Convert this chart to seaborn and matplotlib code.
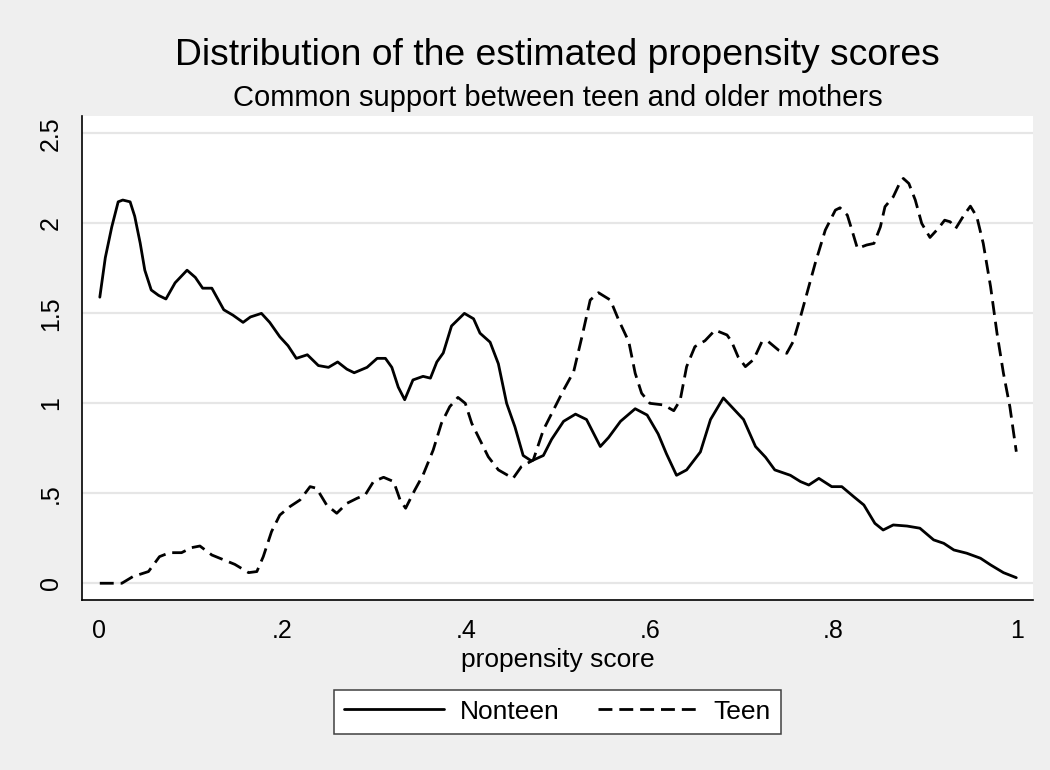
import numpy as np
import pandas as pd
import matplotlib
matplotlib.use("Agg")
import matplotlib.pyplot as plt
from matplotlib.lines import Line2D
import seaborn as sns

# density estimates
nonteen_x = [0.001, 0.007, 0.014, 0.021, 0.026, 0.034, 0.039, 0.045, 0.050, 0.057,
             0.065, 0.073, 0.083, 0.096, 0.105, 0.113, 0.123, 0.136, 0.146, 0.157,
             0.165, 0.177, 0.186, 0.197, 0.206, 0.215, 0.227, 0.239, 0.250, 0.260,
             0.270, 0.278, 0.292, 0.303, 0.312, 0.319, 0.326, 0.333, 0.342, 0.353,
             0.361, 0.368, 0.375, 0.384, 0.398, 0.408, 0.415, 0.426, 0.435, 0.444,
             0.453, 0.462, 0.471, 0.484, 0.493, 0.506, 0.519, 0.531, 0.539, 0.546,
             0.555, 0.568, 0.584, 0.597, 0.609, 0.618, 0.629, 0.640, 0.655, 0.666,
             0.680, 0.691, 0.702, 0.715, 0.726, 0.736, 0.753, 0.764, 0.773, 0.784,
             0.798, 0.809, 0.822, 0.833, 0.845, 0.854, 0.865, 0.880, 0.894, 0.909,
             0.920, 0.931, 0.945, 0.960, 0.971, 0.985, 0.999]
nonteen_y = [1.59, 1.81, 1.98, 2.12, 2.13, 2.12, 2.04, 1.89, 1.74, 1.63,
             1.60, 1.58, 1.67, 1.74, 1.70, 1.64, 1.64, 1.52, 1.49, 1.45,
             1.48, 1.50, 1.45, 1.37, 1.32, 1.25, 1.27, 1.21, 1.20, 1.23,
             1.19, 1.17, 1.20, 1.25, 1.25, 1.20, 1.09, 1.02, 1.13, 1.15,
             1.14, 1.23, 1.28, 1.43, 1.50, 1.47, 1.39, 1.34, 1.22, 1.00,
             0.87, 0.71, 0.68, 0.71, 0.80, 0.90, 0.94, 0.91, 0.83, 0.76,
             0.81, 0.90, 0.97, 0.935, 0.83, 0.72, 0.60, 0.63, 0.73, 0.91,
             1.03, 0.97, 0.91, 0.76, 0.70, 0.63, 0.60, 0.565, 0.546, 0.583,
             0.537, 0.537, 0.481, 0.435, 0.333, 0.296, 0.324, 0.318, 0.306, 0.241,
             0.222, 0.185, 0.167, 0.139, 0.102, 0.059, 0.031]

teen_x = [0.001, 0.025, 0.037, 0.054, 0.066, 0.077, 0.090, 0.101, 0.110, 0.123,
          0.136, 0.148, 0.163, 0.172, 0.179, 0.188, 0.197, 0.208, 0.219, 0.230,
          0.237, 0.248, 0.259, 0.270, 0.281, 0.290, 0.299, 0.310, 0.321, 0.328,
          0.334, 0.344, 0.353, 0.364, 0.373, 0.382, 0.391, 0.399, 0.406, 0.415,
          0.424, 0.435, 0.451, 0.460, 0.473, 0.484, 0.495, 0.506, 0.517, 0.526,
          0.535, 0.544, 0.557, 0.566, 0.577, 0.584, 0.591, 0.600, 0.615, 0.626,
          0.633, 0.640, 0.649, 0.660, 0.671, 0.684, 0.689, 0.696, 0.704, 0.713,
          0.722, 0.729, 0.740, 0.749, 0.756, 0.764, 0.771, 0.780, 0.791, 0.802,
          0.807, 0.815, 0.820, 0.826, 0.836, 0.844, 0.851, 0.856, 0.865, 0.871,
          0.876, 0.882, 0.889, 0.896, 0.905, 0.914, 0.921, 0.927, 0.933, 0.942,
          0.949, 0.956, 0.963, 0.971, 0.978, 0.985, 0.992, 0.999]
teen_y = [0, 0, 0.037, 0.065, 0.148, 0.17, 0.17, 0.198, 0.207, 0.157,
          0.13, 0.105, 0.059, 0.065, 0.148, 0.287, 0.379, 0.426, 0.463, 0.537,
          0.528, 0.435, 0.389, 0.444, 0.472, 0.491, 0.565, 0.589, 0.565, 0.463,
          0.417, 0.518, 0.602, 0.74, 0.889, 0.981, 1.033, 1.0, 0.889, 0.796,
          0.703, 0.63, 0.583, 0.648, 0.685, 0.852, 0.963, 1.074, 1.176, 1.37,
          1.574, 1.615, 1.574, 1.463, 1.343, 1.167, 1.056, 1.0, 0.991, 0.959,
          1.018, 1.204, 1.315, 1.348, 1.407, 1.38, 1.343, 1.259, 1.204, 1.244,
          1.343, 1.343, 1.296, 1.278, 1.343, 1.481, 1.611, 1.778, 1.963, 2.074,
          2.087, 2.046, 1.963, 1.861, 1.88, 1.889, 1.981, 2.093, 2.148, 2.213,
          2.25, 2.222, 2.13, 2.0, 1.922, 1.972, 2.018, 2.009, 1.972, 2.046,
          2.096, 2.037, 1.889, 1.648, 1.389, 1.167, 0.981, 0.731]

xticks = [0, 0.2, 0.4, 0.6, 0.8, 1]
xtick_labels = ["0", ".2", ".4", ".6", ".8", "1"]
yticks = [0, 0.5, 1, 1.5, 2, 2.5]
ytick_labels = ["0", ".5", "1", "1.5", "2", "2.5"]

df = pd.concat([
    pd.DataFrame({"score": nonteen_x, "density": nonteen_y, "group": "Nonteen"}),
    pd.DataFrame({"score": teen_x, "density": teen_y, "group": "Teen"}),
], ignore_index=True)

sns.set_style("white")
plt.rcParams["font.family"] = ["Liberation Sans", "DejaVu Sans"]
plt.rcParams["text.color"] = "black"
plt.rcParams["xtick.color"] = "black"
plt.rcParams["ytick.color"] = "black"
plt.rcParams["axes.labelcolor"] = "black"

bg = "#efefef"
fig = plt.figure(figsize=(10.5, 7.7), dpi=100, facecolor=bg)
ax = fig.add_axes([0.078, 0.2208, 0.906, 0.6283])
ax.set_facecolor("white")

line_dashes = {"Nonteen": "", "Teen": (5, 2.5)}
sns.lineplot(data=df, x="score", y="density", style="group", dashes=line_dashes,
             color="black", linewidth=2.0, estimator=None, sort=False,
             legend=False, ax=ax)

ax.set_xlim(-0.0185, 1.0174)
ax.set_ylim(-0.093, 2.596)
ax.set_xticks(xticks)
ax.set_xticklabels(xtick_labels)
ax.set_yticks(yticks)
ax.set_yticklabels(ytick_labels, rotation=90, va="center")
ax.tick_params(direction="out", length=7.5, width=1, color="#333333",
               labelcolor="black", labelsize=18, pad=6)
ax.set_xlabel("")
ax.set_ylabel("")

ax.yaxis.grid(True, color="#e6e6e6", linewidth=1.6)
ax.set_axisbelow(True)
for s in ["top", "right"]:
    ax.spines[s].set_visible(False)
for s in ["left", "bottom"]:
    ax.spines[s].set_color("black")
    ax.spines[s].set_linewidth(1.2)

fig.text(0.531, 0.9156, "Distribution of the estimated propensity scores",
         ha="center", va="baseline", fontsize=26.8, color="black")
fig.text(0.531, 0.8623, "Common support between teen and older mothers",
         ha="center", va="baseline", fontsize=21, color="black")
fig.text(0.531, 0.1342, "propensity score", ha="center", va="baseline",
         fontsize=19, color="black")

handles = [Line2D([], [], color="black", linewidth=2.0),
           Line2D([], [], color="black", linewidth=2.0, dashes=(5, 2.5))]
leg = fig.legend(handles, ["Nonteen", "Teen"], loc="center",
                 bbox_to_anchor=(0.531, 0.0757), ncol=2, fontsize=19,
                 handlelength=3.8, handletextpad=0.57, columnspacing=1.48,
                 borderpad=0.38, frameon=True, fancybox=False,
                 edgecolor="#404040", framealpha=1)
leg.get_frame().set_linewidth(1.1)
leg.get_frame().set_facecolor("white")
for t in leg.get_texts():
    t.set_color("black")

fig.savefig("out.png", dpi=100, facecolor=bg)
